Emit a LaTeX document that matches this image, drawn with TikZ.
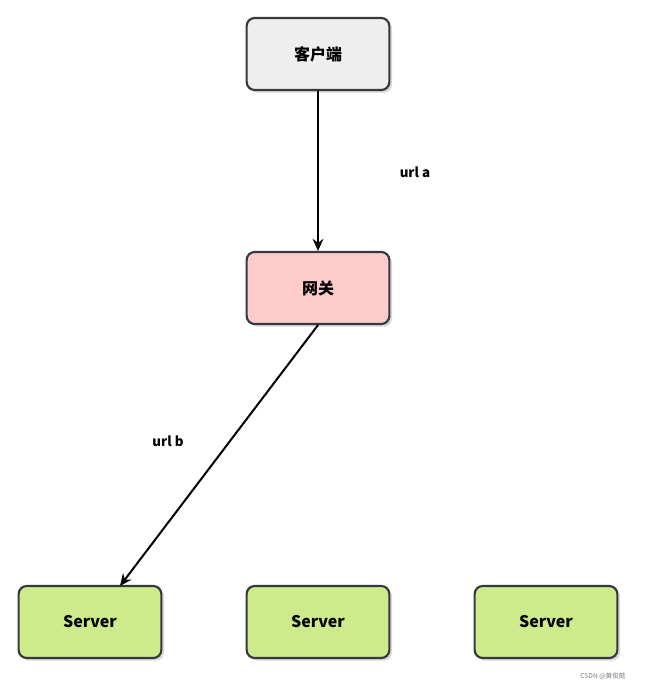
\documentclass[tikz,border=0pt]{standalone}
\usepackage{fontspec}
\setmainfont{Noto Sans CJK SC}
\usetikzlibrary{arrows.meta,shadows}
\definecolor{gbox}{HTML}{EEEEEE}
\definecolor{pbox}{HTML}{FFCCCC}
\definecolor{sbox}{HTML}{CDEB8B}
\definecolor{edge}{HTML}{36393D}
\begin{document}
\begin{tikzpicture}[x=0.75pt,y=-0.75pt,
  box/.style={draw=edge,line width=1.6pt,rounded corners=6pt,minimum width=107pt,minimum height=54pt,font=\bfseries\large,drop shadow={shadow xshift=2pt,shadow yshift=-2pt,opacity=0.3}},
  conn/.style={-{Stealth[length=9pt,width=8pt]},line width=1.5pt,black},
  lab/.style={font=\bfseries}]
\useasboundingbox (0,0) rectangle (647,688);
\node[box,fill=gbox] (client) at (318,54) {客户端};
\node[box,fill=pbox] (gw) at (318,288) {网关};
\node[box,fill=sbox] (s1) at (90,622) {Server};
\node[box,fill=sbox] (s2) at (318,622) {Server};
\node[box,fill=sbox] (s3) at (546,622) {Server};
\draw[conn] (client) -- (gw);
\coordinate (s1t) at (120,586);
\draw[conn] (gw.south) -- (s1t);
\node[lab] (la) at (415,172) {url a};
\node[lab] (lb) at (168,441) {url b};
\node[font=\tiny,text=gray] (wm) at (603,676) {CSDN @黄俊懿};
\end{tikzpicture}
\end{document}
